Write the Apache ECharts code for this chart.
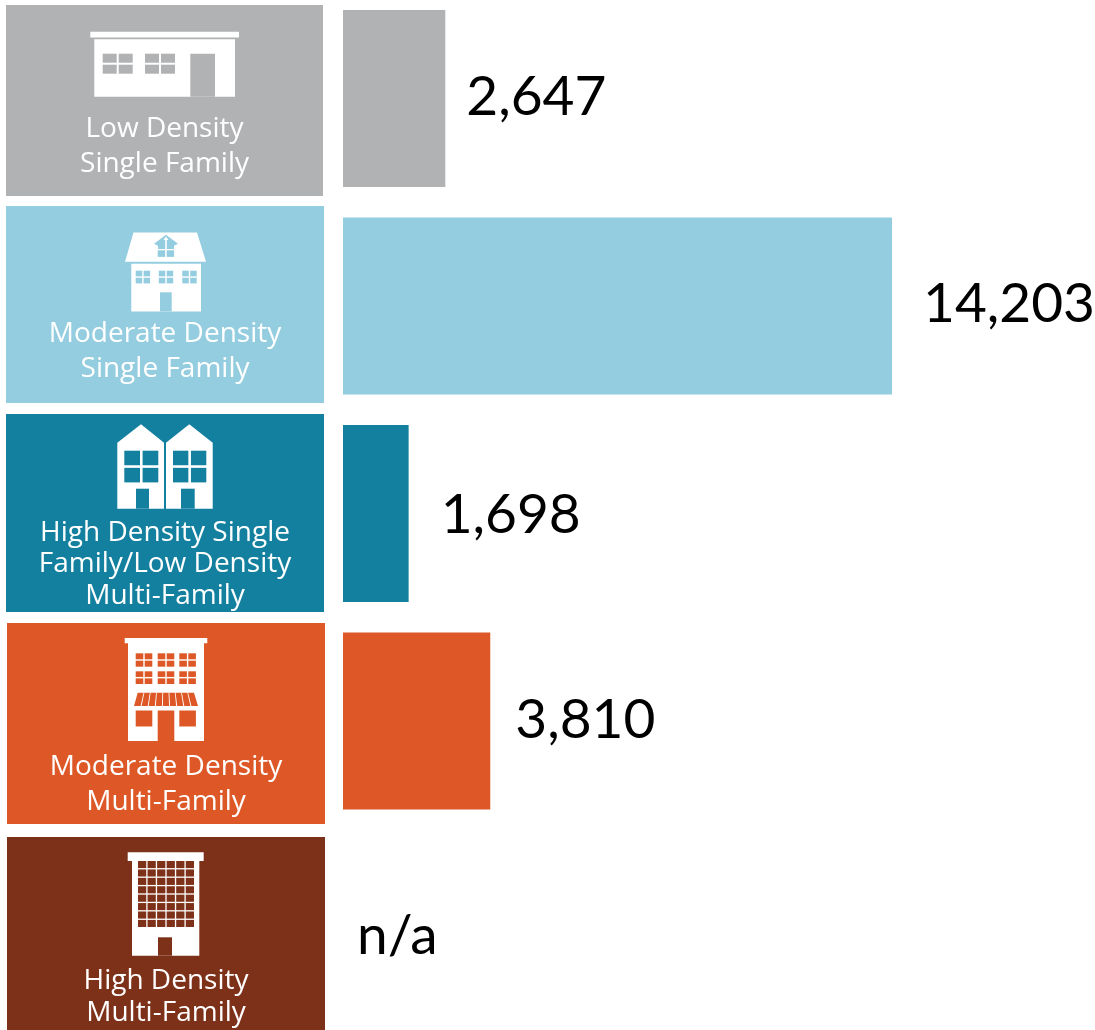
<!DOCTYPE html>
<html>
<head>
<meta charset="utf-8">
<title>Housing types</title>
<script src="https://cdn.jsdelivr.net/npm/echarts@6/dist/echarts.min.js"></script>
<style>
  html, body { margin: 0; padding: 0; background: #fff; }
  #chart { width: 1095px; height: 1030px; }
</style>
</head>
<body>
<div id="chart"></div>
<script>
const categories = [
  'Low Density\nSingle Family',
  'Moderate Density\nSingle Family',
  'High Density Single\nFamily/Low Density\nMulti-Family',
  'Moderate Density\nMulti-Family',
  'High Density\nMulti-Family'
]
const units = [2647, 14203, 1698, 3810, 0]
const unitLabels = ['2,647', '14,203', '1,698', '3,810', 'n/a']
const colors = ['#b1b2b4', '#94cddf', '#14809f', '#dd5826', '#7d3118']

// tile boxes and text placement, not data
const tiles = [
  { x: 6, y: 5, w: 317, h: 191, textY: 129, lineHeight: 35 },
  { x: 6, y: 206, w: 318, h: 197, textY: 334, lineHeight: 35 },
  { x: 6, y: 414, w: 318, h: 198, textY: 533, lineHeight: 31.5 },
  { x: 7, y: 623, w: 318, h: 201, textY: 767, lineHeight: 35 },
  { x: 7, y: 837, w: 318, h: 193, textY: 981, lineHeight: 32 }
]
const labelNudge = [
  { distance: 21, y: -1 },
  { distance: 31, y: -2 },
  { distance: 32, y: 2 },
  { distance: 25, y: -1 },
  { distance: 14, y: 8 }
]

const FONT = 'Lato, "Open Sans", sans-serif'
const TILE_FONT = '"Open Sans", Lato, sans-serif'
const WHITE = '#ffffff'

function rect(x, y, w, h, fill) {
  return { type: 'rect', silent: true, shape: { x, y, width: w, height: h }, style: { fill } }
}
function poly(points, fill) {
  return { type: 'polygon', silent: true, shape: { points }, style: { fill } }
}
// window split into cols x rows panes
function panes(x, y, w, h, cols, rows, gap, fill) {
  const out = []
  const pw = (w - gap * (cols - 1)) / cols
  const ph = (h - gap * (rows - 1)) / rows
  for (let c = 0; c < cols; c++) {
    for (let r = 0; r < rows; r++) {
      out.push(rect(x + c * (pw + gap), y + r * (ph + gap), pw, ph, fill))
    }
  }
  return out
}

function iconLow(c) {
  return [
    rect(90.3, 31.7, 148.7, 5.7, WHITE),
    rect(94.3, 39.3, 140.7, 57.4, WHITE),
    ...panes(102.7, 53.7, 30, 20, 2, 2, 2, c),
    ...panes(145, 53.7, 30, 20, 2, 2, 2, c),
    rect(190.3, 53.7, 24.7, 43, c)
  ]
}

function iconModerateSingle(c) {
  return [
    poly([[133.5, 232.5], [197, 232.5], [206, 261.7], [125, 261.7]], WHITE),
    rect(131.3, 263.7, 69.7, 47.7, WHITE),
    // dormer
    poly([[166, 234.7], [178, 243.7], [174, 245.7], [174, 249], [158, 249], [158, 245.7], [154, 243.7]], c),
    rect(165.2, 238, 1.6, 11, WHITE),
    poly([[166, 236.5], [168.5, 240], [163.5, 240]], WHITE),
    ...panes(157.7, 250.3, 16.4, 6.6, 2, 1, 1.6, c),
    ...panes(135.7, 270.7, 14.4, 12.7, 2, 2, 1.4, c),
    ...panes(158.8, 270.7, 14.4, 12.7, 2, 2, 1.4, c),
    ...panes(182.3, 270.7, 14.4, 12.7, 2, 2, 1.4, c),
    rect(160, 292.3, 11.7, 19.1, c)
  ]
}

function iconRowHouses(c) {
  return [
    poly([[117.3, 442.7], [141, 424.3], [164, 442.7], [164, 508.7], [117.3, 508.7]], WHITE),
    poly([[166, 442.7], [189.3, 424.3], [212.7, 442.7], [212.7, 508.7], [166, 508.7]], WHITE),
    ...panes(124.3, 450.7, 34, 31.7, 2, 2, 2.6, c),
    ...panes(173, 450.7, 33.3, 31.7, 2, 2, 2.6, c),
    rect(136, 488.7, 13, 20, c),
    rect(181, 488.7, 13.7, 20, c)
  ]
}

function iconModerateMulti(c) {
  const out = [
    rect(124.7, 638, 82.6, 5.3, WHITE),
    rect(128, 643, 76, 98, WHITE)
  ]
  ;[135.7, 157.7, 179.3].forEach(x => {
    out.push(...panes(x, 653.3, 16.6, 13.4, 2, 2, 1.4, c))
    out.push(...panes(x, 671.3, 16.6, 12.7, 2, 2, 1.4, c))
  })
  out.push(poly([[137.7, 692.7], [194, 692.7], [198, 706], [134, 706]], c))
  for (let i = 1; i < 9; i++) {
    const t = i / 9
    out.push(poly([
      [137.7 + 56.3 * t - 0.4, 692.7], [137.7 + 56.3 * t + 0.4, 692.7],
      [134 + 64 * t + 0.5, 706], [134 + 64 * t - 0.5, 706]
    ], WHITE))
  }
  out.push(rect(135.7, 710.5, 16.6, 16, c), rect(179.3, 710.5, 16.6, 16, c), rect(157.7, 710.5, 16.6, 30.5, c))
  return out
}

function iconHighMulti(c) {
  return [
    rect(127.7, 852.3, 76, 8.7, WHITE),
    rect(132, 860, 67.3, 95.7, WHITE),
    ...panes(138, 861, 56, 66, 6, 8, 1.3, c),
    rect(158, 937.3, 14, 18.4, c)
  ]
}

const icons = [iconLow, iconModerateSingle, iconRowHouses, iconModerateMulti, iconHighMulti]

function buildTiles() {
  const out = []
  tiles.forEach((t, i) => {
    out.push(rect(t.x, t.y, t.w, t.h, colors[i]))
    out.push(...icons[i](colors[i]))
    categories[i].split('\n').forEach((line, n) => {
      out.push({
        type: 'text',
        silent: true,
        x: t.x + t.w / 2,
        y: t.textY + n * t.lineHeight,
        style: {
          text: line,
          fill: '#ffffff',
          font: '28px ' + TILE_FONT,
          align: 'center',
          verticalAlign: 'middle'
        }
      })
    })
  })
  return out
}

const chart = echarts.init(document.getElementById('chart'), null, { renderer: 'canvas' })

chart.setOption({
  animation: false,
  backgroundColor: '#ffffff',
  grid: { left: 343, top: -5.25, width: 734.4, height: 1037.5, containLabel: false, outerBoundsMode: 'none' },
  xAxis: { type: 'value', min: 0, max: 19000, show: false },
  yAxis: { type: 'category', inverse: true, data: categories, show: false },
  graphic: { elements: buildTiles() },
  series: [{
    type: 'bar',
    barWidth: 177,
    silent: true,
    data: units.map((value, i) => ({
      value,
      itemStyle: { color: colors[i] },
      label: {
        show: true,
        position: 'right',
        distance: labelNudge[i].distance,
        offset: [0, labelNudge[i].y],
        formatter: unitLabels[i],
        fontFamily: FONT,
        fontSize: 55,
        color: '#000000'
      }
    }))
  }]
})
</script>
</body>
</html>
